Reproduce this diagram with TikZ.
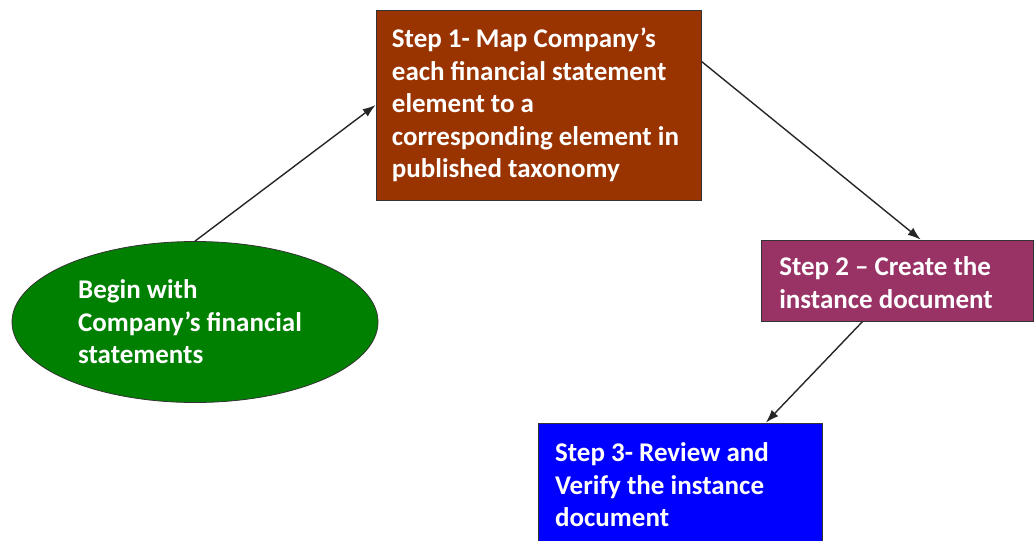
\documentclass[tikz,border=0pt]{standalone}
\usepackage{fontspec}
\setmainfont{Carlito}
\usepackage{tikz}
\usetikzlibrary{arrows.meta}
\usetikzlibrary{shapes.geometric}

\definecolor{stepbrown}{HTML}{993300}
\definecolor{stepplum}{HTML}{993366}
\definecolor{stepblue}{HTML}{0000FF}
\definecolor{startgreen}{HTML}{008000}

\tikzset{
    stepbox/.style={draw=black!80, line width=0.8pt, rectangle, inner sep=0pt},
    steptext/.style={text=white, align=left, inner sep=0pt,
        font=\fontsize{27}{32.5}\selectfont\bfseries},
    flow/.style={-{Latex[length=13pt,width=9pt]}, line width=1.4pt, black!85}
}

\begin{document}
\begin{tikzpicture}[x=1pt, y=-1pt]
        \def\W{1034}
        \def\H{541}

        \clip (0,0) rectangle (\W,\H);

        % Shapes
        \node[stepbox, ellipse, fill=startgreen, minimum width=366pt, minimum height=161pt,
            label={[steptext, xshift=-5pt]center:Begin with\\Company’s financial\\statements}]
            (start) at (195,322) {};
        \node[stepbox, fill=stepbrown, minimum width=325pt, minimum height=190pt,
            label={[steptext, xshift=-3pt]center:Step 1- Map Company’s\\each financial statement\\element to a\\corresponding element in\\published taxonomy}]
            (step1) at (538.5,105) {};
        \node[stepbox, fill=stepplum, minimum width=272pt, minimum height=81pt,
            label={[steptext, xshift=-11pt, yshift=-2pt]center:Step 2 – Create the\\instance document}]
            (step2) at (897,280.5) {};
        \node[stepbox, fill=stepblue, minimum width=284pt, minimum height=124pt,
            label={[steptext, xshift=-18pt]center:Step 3- Review and\\Verify the instance\\document}]
            (step3) at (680,485) {};

        % Arrows
        \draw[flow] (start.north) -- (step1.west);
        \draw[flow] (step1.15) -- (step2.60);
        \draw[flow] (step2.230) -- (step3.36);
    \end{tikzpicture}
\end{document}
